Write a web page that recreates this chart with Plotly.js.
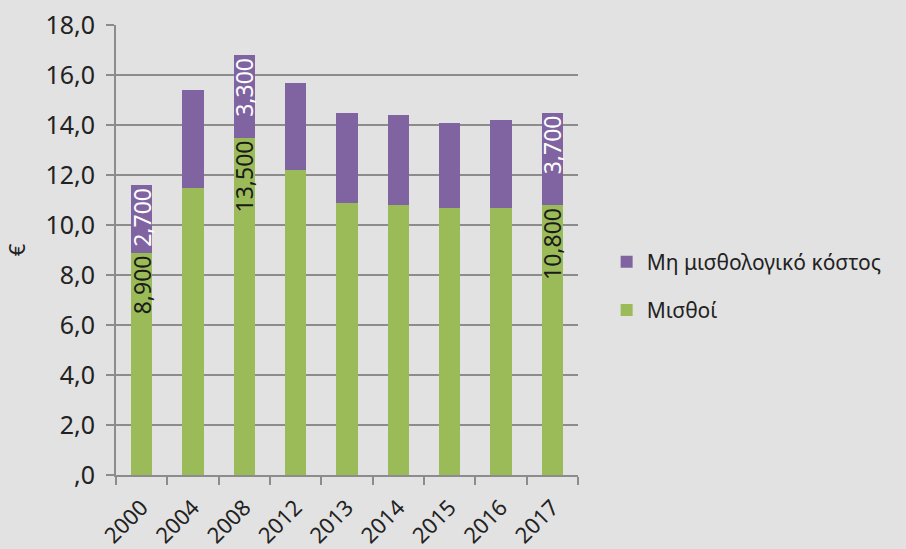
<!DOCTYPE html>
<html><head><meta charset="utf-8">
<script src="https://cdn.plot.ly/plotly-3.0.1.min.js"></script>
<style>html,body{margin:0;padding:0;background:#e2e2e2;}</style>
</head><body>
<div id="chart" style="width:906px;height:549px;"></div>
<script>
const years = ["2000","2004","2008","2012","2013","2014","2015","2016","2017"];
const salaries = [8.9, 11.5, 13.5, 12.2, 10.9, 10.8, 10.7, 10.7, 10.8];
const nonSalary = [2.7, 3.9, 3.3, 3.5, 3.6, 3.6, 3.4, 3.5, 3.7];
const salaryLabels = ["8,900", "", "13,500", "", "", "", "", "", "10,800"];
const nonSalaryLabels = ["2,700", "", "3,300", "", "", "", "", "", "3,700"];
const yTickVals = [0, 2, 4, 6, 8, 10, 12, 14, 16, 18];
const yTickText = [",0", "2,0", "4,0", "6,0", "8,0", "10,0", "12,0", "14,0", "16,0", "18,0"];

const font = "Noto Sans, Open Sans, sans-serif";
const traces = [
  {type:"bar", name:"Μισθοί", x:years, y:salaries, text:salaryLabels, legendgroup:"a", legendrank:2,
   texttemplate:"%{text}", textposition:"inside", insidetextanchor:"end", textangle:-90,
   constraintext:"none", cliponaxis:false,
   textfont:{color:"#1a1a1a", size:23, family:font},
   marker:{color:"#9bbb59"}, hoverinfo:"y"},
  {type:"bar", name:"Μη μισθολογικό κόστος", x:years, y:nonSalary, text:nonSalaryLabels, legendgroup:"b", legendrank:1,
   texttemplate:"%{text}", textposition:"inside", insidetextanchor:"end", textangle:-90,
   constraintext:"none", cliponaxis:false,
   textfont:{color:"#ffffff", size:23, family:font},
   marker:{color:"#8064a2"}, hoverinfo:"y"}
];
const layout = {
  width:906, height:549,
  paper_bgcolor:"#e2e2e2", plot_bgcolor:"#e2e2e2",
  margin:{l:116, r:328, t:25, b:74, autoexpand:false},
  barmode:"stack", bargap:0.58,
  font:{family:font, color:"#222222", size:20},
  uniformtext:{mode:false},
  xaxis:{type:"category", tickson:"boundaries", ticks:"outside", ticklen:8, tickwidth:2, tickcolor:"#8c8c8c",
         showline:true, linecolor:"#8c8c8c", linewidth:2, showgrid:false, tickangle:-45, ticklabelstandoff:9,
         tickfont:{size:22, family:font, color:"#222"}},
  yaxis:{range:[0,18], tickvals:yTickVals, ticktext:yTickText, ticks:"outside", ticklen:8, tickwidth:2,
         tickcolor:"#8c8c8c", showline:true, linecolor:"#8c8c8c", linewidth:2, ticklabelstandoff:6,
         gridcolor:"#8c8c8c", gridwidth:2, zeroline:false,
         tickfont:{size:25, family:font, color:"#222"},
         title:{text:"€", font:{size:22, family:font, color:"#222"}, standoff:14}},
  legend:{x:1.062, y:0.42, xanchor:"left", yanchor:"middle", traceorder:"grouped",
          bgcolor:"rgba(0,0,0,0)", font:{size:21, family:font, color:"#222"}, tracegroupgap:18, itemwidth:30},
  showlegend:true
};
Plotly.newPlot("chart", traces, layout, {displayModeBar:false, staticPlot:true});
</script>
</body></html>
